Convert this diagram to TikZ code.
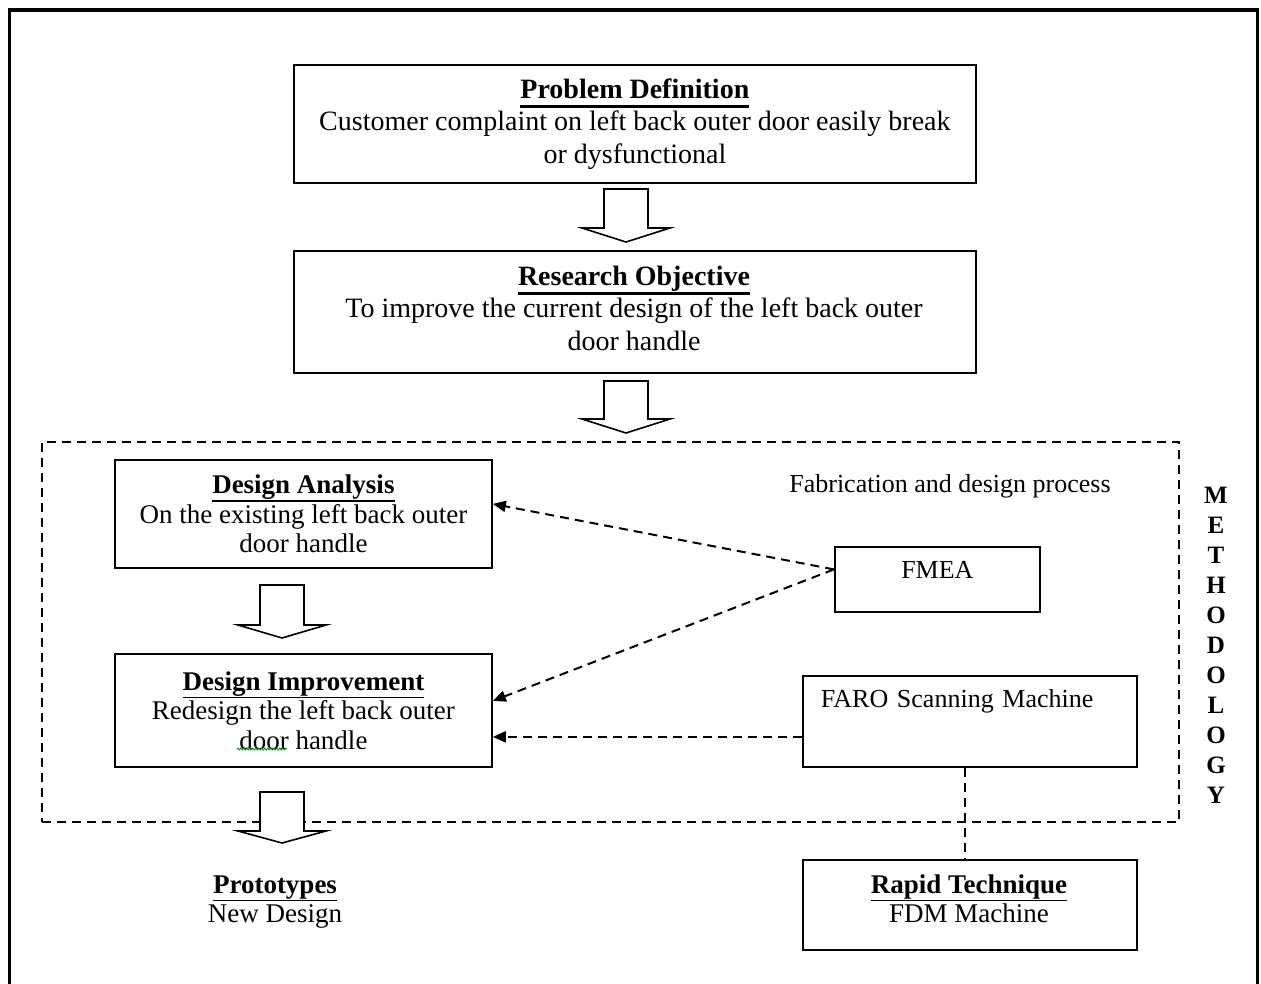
\documentclass[tikz,border=0pt]{standalone}
\usepackage{fontspec}
\setmainfont{Liberation Serif}
\usetikzlibrary{arrows.meta,decorations.pathmorphing}
\newcommand{\myul}[3]{\leavevmode\setbox0\hbox{#3}\rlap{\raisebox{-#2}{\rule{\wd0}{#1}}}\box0}
\newcommand{\ttl}[1]{\textbf{\myul{1.6pt}{8pt}{#1}}}
\newcommand{\tttl}[1]{\textbf{\myul{2.8pt}{9.5pt}{#1}}}
\newcommand{\barr}[4]{\draw[barrow] (#1-22,#2) -- (#1+22,#2) -- (#1+22,#3) -- (#1+44,#3) -- (#1,#4) -- (#1-44,#3) -- (#1-22,#3) -- cycle;}
\tikzset{
  box/.style={draw, line width=1.8pt, inner sep=0pt, anchor=north west, align=center},
  topfont/.style={font=\fontsize{28}{32.5}\selectfont},
  lowfont/.style={font=\fontsize{27}{29.5}\selectfont},
  smallfont/.style={font=\fontsize{26}{28}\selectfont},
  dline/.style={line width=2pt, dash pattern=on 9pt off 6pt},
  darrow/.style={dline, -{Triangle[length=13pt,width=11pt]}},
  barrow/.style={draw, line width=1.6pt, fill=white, line join=miter},
}
\begin{document}
\begin{tikzpicture}[x=1pt,y=-1pt]
\useasboundingbox (0,0) rectangle (1261,983);
% outer frame (open at bottom)
\draw[line width=3.2pt] (9.5,990) -- (9.5,10) -- (1257.5,10) -- (1257.5,990);

% top boxes
\node[box, topfont, minimum width=682pt, minimum height=118pt] (pd) at (293,64)
  {\tttl{Problem Definition}\\Customer complaint on left back outer door easily break\\or dysfunctional};
\node[box, topfont, minimum width=682pt, minimum height=122pt] (ro) at (293,250) {};
\node[topfont, align=center] (rotext) at (634,308)
  {\tttl{Research Objective}\\To improve the current design of the left back outer\\door handle};

% dashed methodology frame
\node[draw, dline, inner sep=0pt, anchor=north west, minimum width=1137pt, minimum height=380pt] (meth) at (41,441) {};

\node[smallfont, anchor=center] (fab) at (950,486) {Fabrication and design process};

\node[box, lowfont, minimum width=377pt, minimum height=108pt] (da) at (114,459)
  {\ttl{Design Analysis}\\On the existing left back outer\\door handle};
\node[box, lowfont, minimum width=377pt, minimum height=113pt] (di) at (114,653)
  {\ttl{Design Improvement}\\Redesign the left back outer\\door handle};

\node[box, smallfont, minimum width=205pt, minimum height=65pt, text depth=18pt] (fmea) at (834,546) {FMEA};
\node[box, smallfont, minimum width=334pt, minimum height=91pt, text depth=45pt,
      align=left, text width=298pt, inner xsep=18pt] (faro) at (802,675) {FARO Scanning Machine};
\node[box, lowfont, minimum width=334pt, minimum height=90pt] (rapid) at (802,859) {};
\node[lowfont, align=center] (rapidtext) at (969,899) {\ttl{Rapid Technique}\\FDM Machine};

\node[lowfont, align=center] (proto) at (275,902) {\ttl{Prototypes}\\New Design};

\node[font=\fontsize{25}{30}\selectfont\bfseries, align=center] (mlabel) at (1216,645)
  {M\\E\\T\\H\\O\\D\\O\\L\\O\\G\\Y};

% block arrows
\barr{626}{189}{228}{242}
\barr{626}{381}{419}{433}
\barr{282}{585}{625}{638}
\barr{282}{792}{831}{843}

% dashed connectors
\draw[darrow] ([yshift=10pt]fmea.west) -- ([yshift=10pt]da.east);
\draw[darrow] ([yshift=10pt]fmea.west) -- ([yshift=9.5pt]di.east);
\draw[darrow] ([yshift=-15.5pt]faro.west) -- ([yshift=-26.5pt]di.east);
\draw[dline] ([xshift=-5pt]faro.south) -- ([xshift=-5pt]rapid.north);

% spell-check squiggle under "door"
\draw[green!55!black, line width=0.8pt, decorate, decoration={zigzag, amplitude=1pt, segment length=3pt}]
  (237,749) -- (287,749);
\end{tikzpicture}
\end{document}
